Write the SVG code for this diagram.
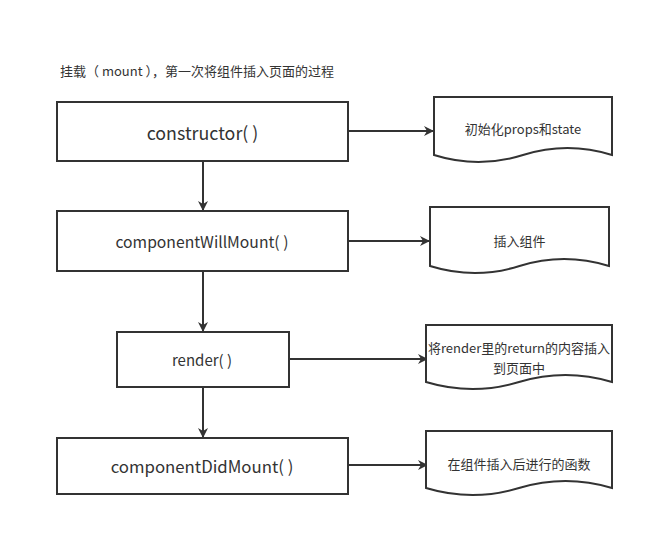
<svg xmlns="http://www.w3.org/2000/svg" width="645" height="533" viewBox="0 0 645 533">
<defs>
<marker id="ah" markerWidth="10" markerHeight="10" refX="9" refY="5" orient="auto" markerUnits="userSpaceOnUse">
<path d="M0,0 L10,5 L0,10 L3,5 Z" fill="#333"/>
</marker>
<style>
.box{fill:#fff;stroke:#333;stroke-width:2}
.doc{fill:#fff;stroke:#333;stroke-width:2}
.ln{stroke:#333;stroke-width:2;fill:none;marker-end:url(#ah)}
text{font-family:"Noto Sans CJK SC","Noto Sans",sans-serif;fill:#333;text-anchor:middle;dominant-baseline:central}
.t3{font-size:13px}
</style>
</defs>
<rect width="645" height="533" fill="#fff"/>
<text x="60" y="70" style="text-anchor:start;font-size:13px">挂载（ mount ），第一次将组件插入页面的过程</text>
<g id="connectors">
<line class="ln" x1="203" y1="161" x2="203" y2="210"/>
<line class="ln" x1="203" y1="271" x2="203" y2="331"/>
<line class="ln" x1="203" y1="387" x2="203" y2="437"/>
<line class="ln" x1="348" y1="131" x2="433" y2="131"/>
<line class="ln" x1="348" y1="241" x2="429" y2="241"/>
<line class="ln" x1="289" y1="359" x2="427" y2="359"/>
<line class="ln" x1="348" y1="465" x2="427" y2="465"/>
</g>
<g id="n1"><rect class="box" x="57" y="102" width="291" height="59"/><text x="202.5" y="131.5" style="font-size:17.8px">constructor( )</text></g>
<g id="n2"><rect class="box" x="57" y="211" width="291" height="60"/><text x="202" y="241" style="font-size:15.7px">componentWillMount( )</text></g>
<g id="n3"><rect class="box" x="117" y="332" width="172" height="55"/><text x="202" y="359.5" style="font-size:15px">render( )</text></g>
<g id="n4"><rect class="box" x="57" y="438" width="291" height="56"/><text x="202" y="466" style="font-size:16.8px">componentDidMount( )</text></g>
<g id="d1"><path class="doc" d="M434,97 H612 V155 Q567.5,141 523,155 Q478.5,169 434,155 Z"/><text class="t3" x="523" y="128">初始化props和state</text></g>
<g id="d2"><path class="doc" d="M430,207 H609 V266 Q564,252 519.5,266 Q475,280 430,266 Z"/><text class="t3" x="519.5" y="240">插入组件</text></g>
<g id="d3"><path class="doc" d="M426,325 H612 V382 Q565.5,368 519,382 Q472.5,396 426,382 Z"/><text class="t3" x="519" y="347">将render里的return的内容插入</text><text class="t3" x="519" y="367">到页面中</text></g>
<g id="d4"><path class="doc" d="M426,431 H612 V488 Q565.5,474 519,488 Q472.5,502 426,488 Z"/><text class="t3" x="519" y="463">在组件插入后进行的函数</text></g>
</svg>
